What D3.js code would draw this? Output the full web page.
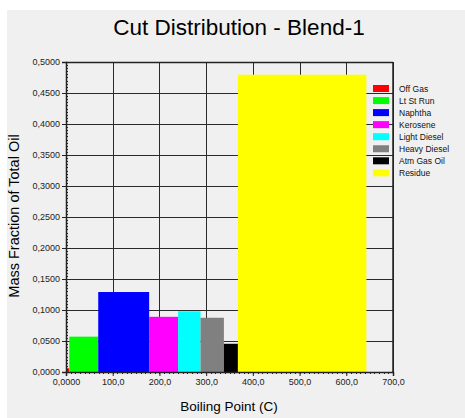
<!DOCTYPE html>
<html>
<head>
<meta charset="utf-8">
<script src="https://cdn.jsdelivr.net/npm/d3@7"></script>
<style>
  body { margin: 0; background: #fff; }
  text { font-family: "Liberation Sans", Arial, sans-serif; }
</style>
</head>
<body>
<svg id="chart" width="465" height="418"></svg>
<script>
// cut data
var cuts = ["Off Gas", "Lt St Run", "Naphtha", "Kerosene", "Light Diesel", "Heavy Diesel", "Atm Gas Oil", "Residue"];
var cutStart = [2, 7, 69, 178, 240, 288, 338, 368];
var cutEnd = [7, 69, 178, 240, 288, 338, 368, 643];
var massFrac = [0.006, 0.057, 0.129, 0.089, 0.098, 0.0875, 0.0455, 0.4795];
var colors = ["#ff0000", "#00ff00", "#0000ff", "#ff00ff", "#00ffff", "#808080", "#000000", "#ffff00"];
var xTicks = [0, 100, 200, 300, 400, 500, 600, 700];
var yTicks = [0, 0.05, 0.1, 0.15, 0.2, 0.25, 0.3, 0.35, 0.4, 0.45, 0.5];

var svg = d3.select("#chart");
var margin = {top: 62, left: 66, right: 72, bottom: 46};
var width = 465 - margin.left - margin.right,
    height = 418 - margin.top - margin.bottom;

// grey panel
svg.append("rect").attr("x", 7).attr("y", 10).attr("width", 458).attr("height", 408).attr("fill", "#f0f0f0");

svg.append("text")
    .attr("x", 239).attr("y", 35)
    .attr("text-anchor", "middle")
    .attr("font-size", 22.5)
    .attr("fill", "#000")
    .text("Cut Distribution - Blend-1");

var x = d3.scaleLinear().domain([0, 700]).range([0, width]);
var y = d3.scaleLinear().domain([0, 0.5]).range([height, 0]);

var g = svg.append("g").attr("transform", "translate(" + margin.left + "," + margin.top + ")");

// grid
g.selectAll(".vgrid").data(xTicks.slice(1)).enter().append("line")
    .attr("x1", function(d) { return Math.round(x(d)) + 0.5; })
    .attr("x2", function(d) { return Math.round(x(d)) + 0.5; })
    .attr("y1", 0).attr("y2", height)
    .attr("stroke", "#2a2a2a").attr("stroke-width", 1);
g.selectAll(".hgrid").data(yTicks.slice(1)).enter().append("line")
    .attr("y1", function(d) { return Math.round(y(d)) + 0.5; })
    .attr("y2", function(d) { return Math.round(y(d)) + 0.5; })
    .attr("x1", 0).attr("x2", width)
    .attr("stroke", "#2a2a2a").attr("stroke-width", 1);

// bars
g.selectAll(".bar").data(massFrac).enter().append("rect")
    .attr("x", function(d, i) { return x(cutStart[i]); })
    .attr("width", function(d, i) { return x(cutEnd[i]) - x(cutStart[i]); })
    .attr("y", function(d) { return y(d); })
    .attr("height", function(d) { return height - y(d); })
    .attr("fill", function(d, i) { return colors[i]; });

// minor ticks
var xMinor = d3.range(0, 701, 10), yMinor = d3.range(0, 0.5001, 0.005);
g.selectAll(".xm").data(xMinor).enter().append("line")
    .attr("x1", function(d) { return Math.round(x(d)) + 0.5; })
    .attr("x2", function(d) { return Math.round(x(d)) + 0.5; })
    .attr("y1", height).attr("y2", height + 2)
    .attr("stroke", "#222");
g.selectAll(".ym").data(yMinor).enter().append("line")
    .attr("y1", function(d) { return Math.round(y(d)) + 0.5; })
    .attr("y2", function(d) { return Math.round(y(d)) + 0.5; })
    .attr("x1", 0).attr("x2", 2)
    .attr("stroke", "#222");

// axes
var xAxis = g.append("g")
    .attr("transform", "translate(0," + height + ")")
    .call(d3.axisBottom(x).tickValues(xTicks).tickSize(4).tickPadding(3)
        .tickFormat(function(d) { return d === 0 ? "0,0000" : d3.format(".1f")(d).replace(".", ","); }));
var yAxis = g.append("g")
    .call(d3.axisLeft(y).tickValues(yTicks).tickSize(4).tickPadding(2)
        .tickFormat(function(d) { return d3.format(".4f")(d).replace(".", ","); }));
[xAxis, yAxis].forEach(function(a) {
    a.select(".domain").attr("stroke", "#222").attr("stroke-width", 1.5);
    a.selectAll(".tick line").attr("stroke", "#222");
    a.selectAll("text").attr("font-size", 9).attr("fill", "#222")
        .style("font-family", "'Liberation Sans', Arial, sans-serif");
});

// frame top/right
g.append("line").attr("x1", 0).attr("x2", width).attr("y1", 0.5).attr("y2", 0.5).attr("stroke", "#222").attr("stroke-width", 1.5);
g.append("line").attr("x1", width).attr("x2", width).attr("y1", 0).attr("y2", height).attr("stroke", "#222").attr("stroke-width", 1.5);

// axis titles
svg.append("text")
    .attr("x", 229).attr("y", 411)
    .attr("text-anchor", "middle").attr("font-size", 13.5).attr("fill", "#000")
    .text("Boiling Point (C)");
svg.append("text")
    .attr("transform", "translate(19,216) rotate(-90)")
    .attr("text-anchor", "middle").attr("font-size", 14.5).attr("fill", "#000")
    .text("Mass Fraction of Total Oil");

// legend
var legend = svg.append("g").attr("transform", "translate(373,85)");
var item = legend.selectAll(".item").data(cuts).enter().append("g")
    .attr("transform", function(d, i) { return "translate(0," + (i * 12.05) + ")"; });
item.append("rect").attr("width", 16).attr("height", 7)
    .attr("fill", function(d, i) { return colors[i]; });
item.append("text").attr("x", 26).attr("y", 6.5)
    .attr("font-size", 8.5).attr("fill", "#111")
    .text(function(d) { return d; });
</script>
</body>
</html>
